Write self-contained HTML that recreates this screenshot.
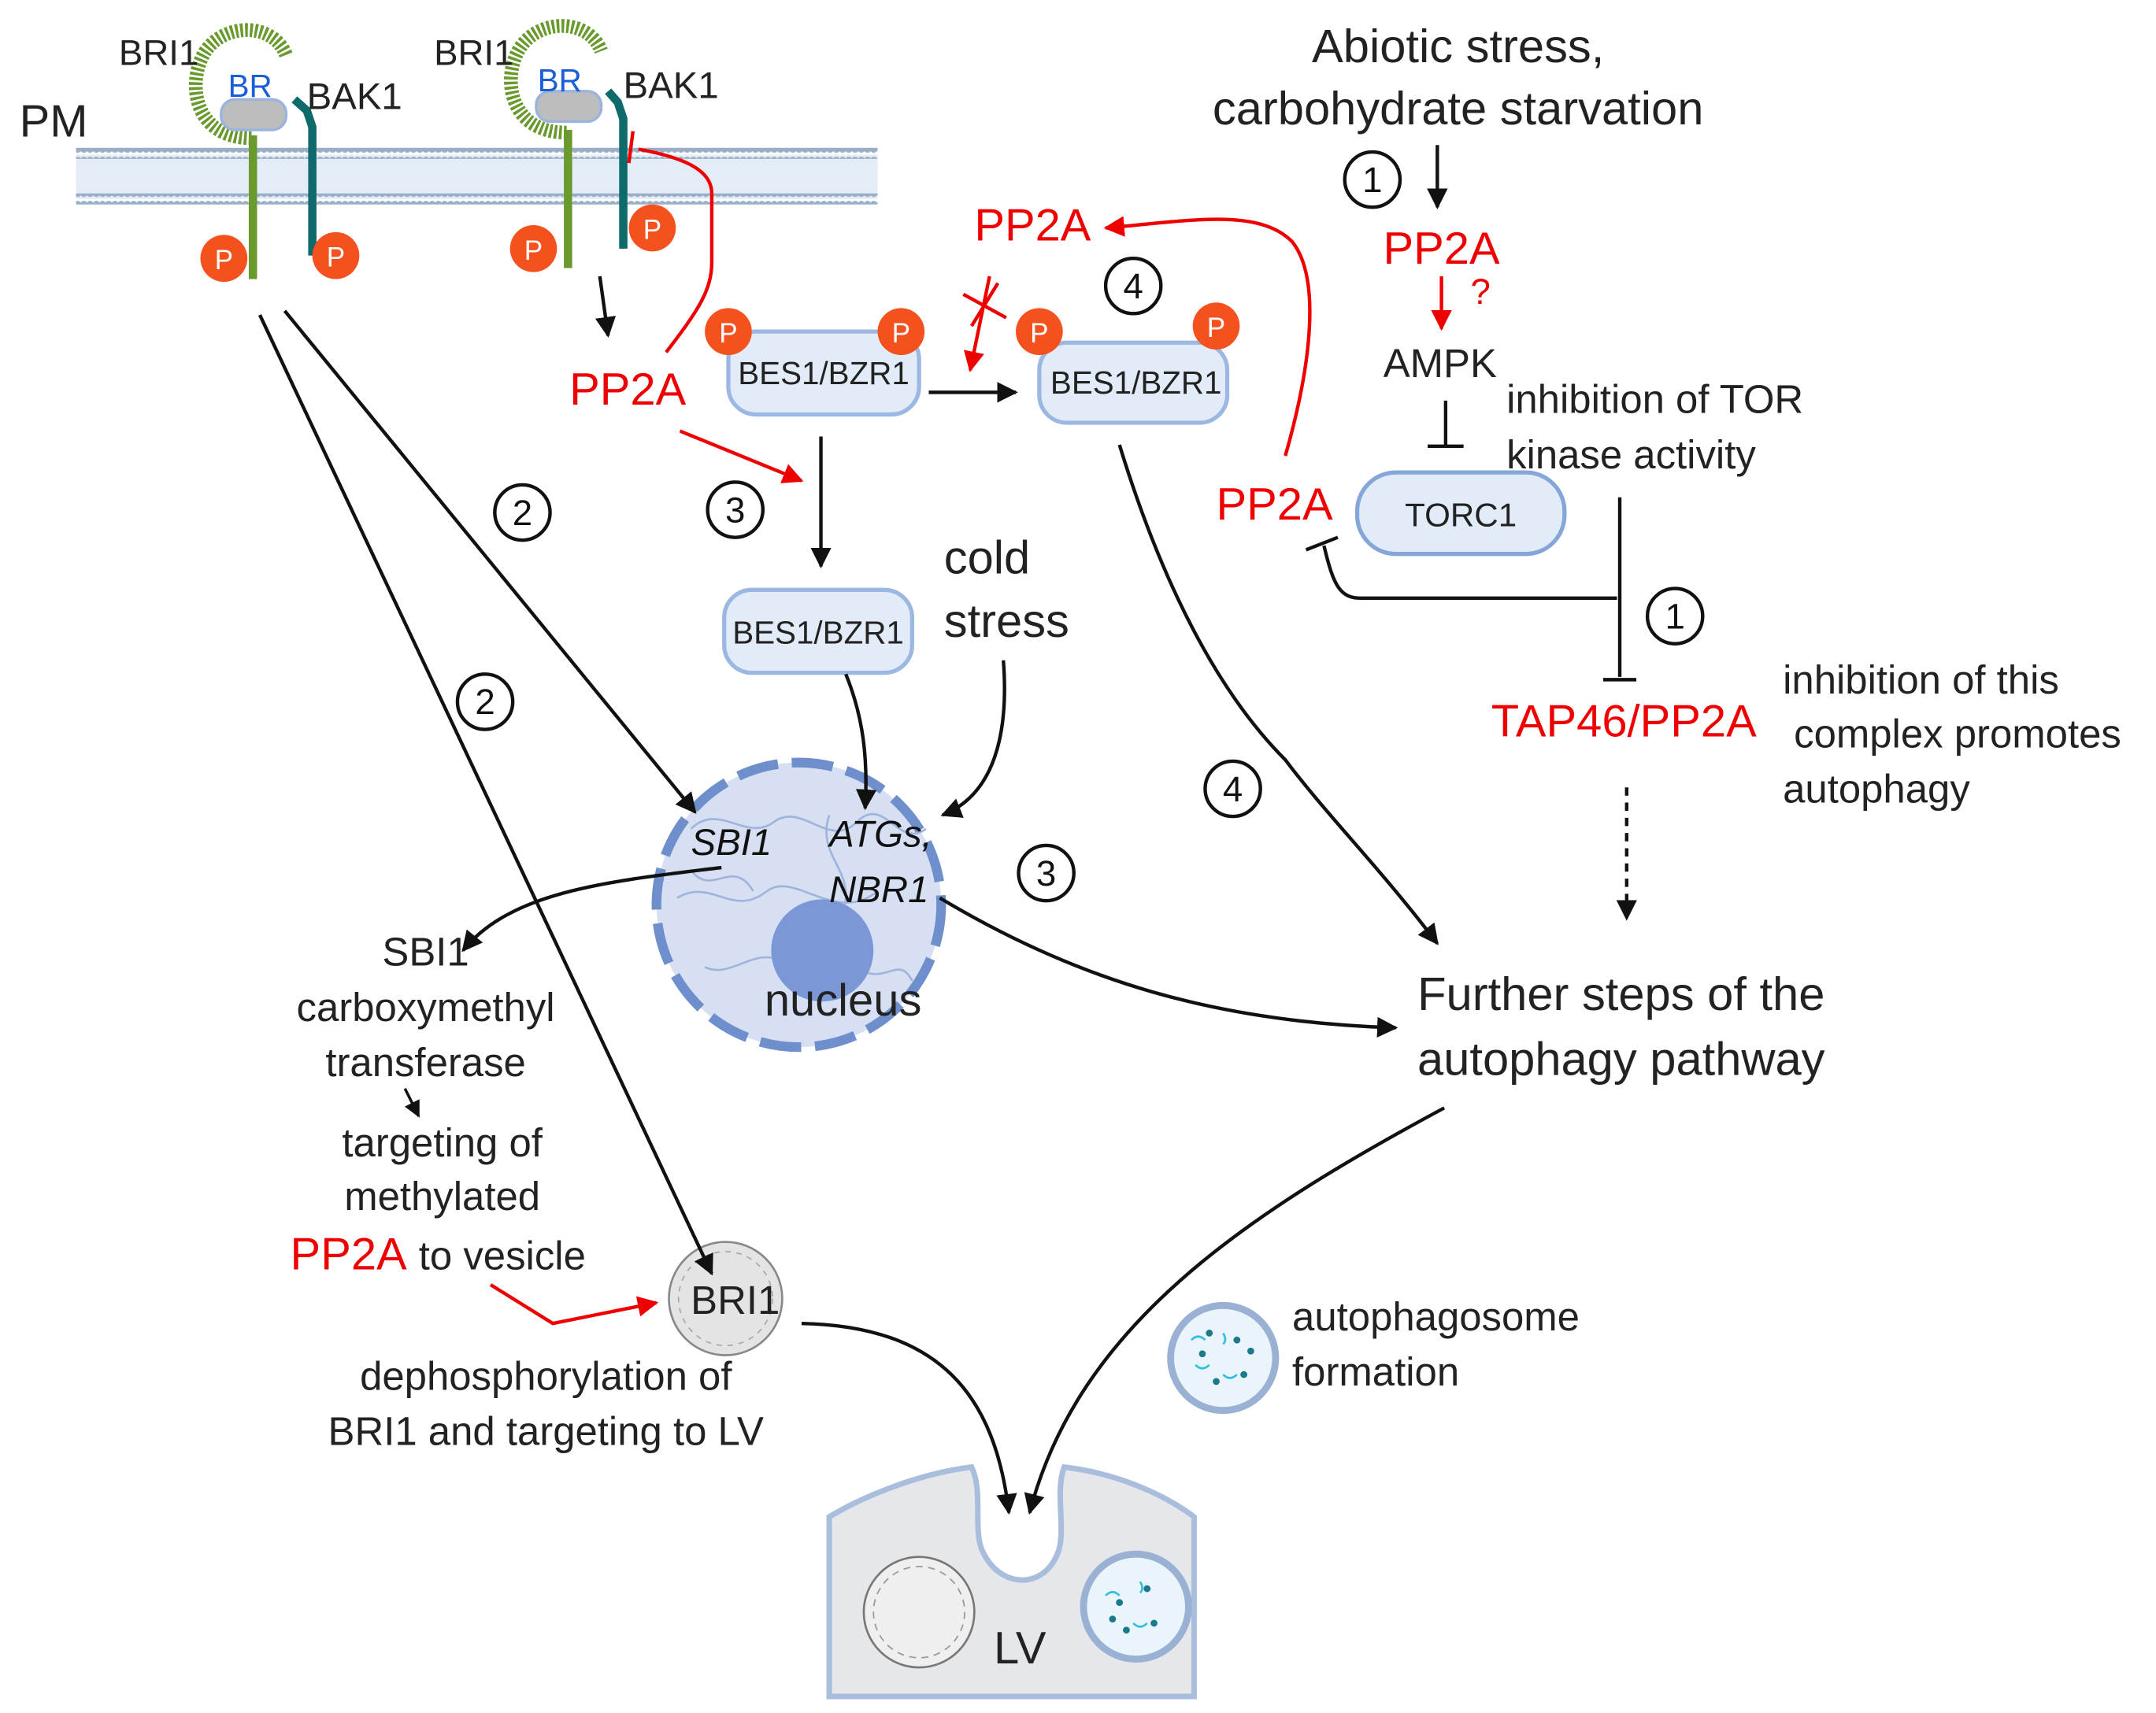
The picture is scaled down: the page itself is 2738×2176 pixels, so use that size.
<!DOCTYPE html>
<html><head><meta charset="utf-8"><style>
html,body{margin:0;padding:0;background:#fff;}
svg{display:block;}
text{font-family:"Liberation Sans","DejaVu Sans",sans-serif;}
</style></head><body>
<svg width="2738" height="2176" viewBox="0 0 1560 1240" preserveAspectRatio="none" xmlns="http://www.w3.org/2000/svg">
<defs>
<marker id="ab" viewBox="0 0 10 10" refX="9" refY="5" markerWidth="6" markerHeight="6" orient="auto-start-reverse"><path d="M0,0 L10,5 L0,10 z" fill="#111"/></marker>
<marker id="ar" viewBox="0 0 10 10" refX="9" refY="5" markerWidth="6" markerHeight="6" orient="auto-start-reverse"><path d="M0,0 L10,5 L0,10 z" fill="#e00"/></marker>
<pattern id="dots" width="4.5" height="8" patternUnits="userSpaceOnUse"><circle cx="2.2" cy="4" r="2.6" fill="#9aafc6"/></pattern>
</defs>

<!-- membrane -->
<rect x="55" y="112" width="580" height="32" fill="#e4edf7"/>
<rect x="55" y="107" width="580" height="8" fill="url(#dots)"/>
<rect x="55" y="140" width="580" height="8" fill="url(#dots)"/>

<!-- receptor 1 -->
<path d="M182,100 C140,100 135,60 148,38 C162,16 198,16 207,40" fill="none" stroke="#6a9a2e" stroke-width="10" stroke-dasharray="2 1.5"/>
<line x1="183" y1="98" x2="183" y2="202" stroke="#6a9a2e" stroke-width="6"/>
<rect x="160" y="72" width="47" height="22" rx="10" fill="#bdbdbd" stroke="#9bb4dd" stroke-width="2"/>
<path d="M213,72 L222,80 L226,92 L226,185" fill="none" stroke="#0f6b6b" stroke-width="6"/>
<circle cx="162" cy="187" r="17" fill="#f4511e"/><text x="162" y="195" font-size="20" fill="#fff" text-anchor="middle">P</text>
<circle cx="243" cy="185" r="17" fill="#f4511e"/><text x="243" y="193" font-size="20" fill="#fff" text-anchor="middle">P</text>
<text x="86" y="47" font-size="26" fill="#222">BRI1</text>
<text x="165" y="70" font-size="23" fill="#1a5fd6">BR</text>
<text x="222" y="79" font-size="27" fill="#222">BAK1</text>
<text x="14" y="99" font-size="33" fill="#222">PM</text>

<!-- receptor 2 -->
<path d="M410,96 C368,96 363,56 376,35 C390,13 426,13 435,37" fill="none" stroke="#6a9a2e" stroke-width="10" stroke-dasharray="2 1.5"/>
<line x1="411" y1="94" x2="411" y2="194" stroke="#6a9a2e" stroke-width="6"/>
<rect x="388" y="66" width="47" height="22" rx="10" fill="#bdbdbd" stroke="#9bb4dd" stroke-width="2"/>
<path d="M440,66 L447,74 L451,86 L451,180" fill="none" stroke="#0f6b6b" stroke-width="6"/>
<circle cx="386" cy="180" r="17" fill="#f4511e"/><text x="386" y="188" font-size="20" fill="#fff" text-anchor="middle">P</text>
<circle cx="472" cy="165" r="17" fill="#f4511e"/><text x="472" y="173" font-size="20" fill="#fff" text-anchor="middle">P</text>
<text x="314" y="47" font-size="26" fill="#222">BRI1</text>
<text x="389" y="66" font-size="23" fill="#1a5fd6">BR</text>
<text x="451" y="71" font-size="27" fill="#222">BAK1</text>

<!-- red inhibition from PP2A to BAK1 -->
<path d="M482,255 C505,225 515,210 515,190 L515,140 C515,125 500,115 462,108" fill="none" stroke="#e00" stroke-width="2.5"/>
<line x1="458" y1="95" x2="455" y2="118" stroke="#e00" stroke-width="2.5"/>
<line x1="434" y1="200" x2="440" y2="243" stroke="#111" stroke-width="2.5" marker-end="url(#ab)"/>
<text x="412" y="293" font-size="33" fill="#e00">PP2A</text>
<line x1="492" y1="312" x2="580" y2="348" stroke="#e00" stroke-width="2.5" marker-end="url(#ar)"/>

<!-- BES boxes -->
<rect x="527" y="240" width="138" height="60" rx="20" fill="#e2ecf9" stroke="#9cb8e2" stroke-width="3"/>
<text x="596" y="278" font-size="23" fill="#222" text-anchor="middle">BES1/BZR1</text>
<circle cx="527" cy="240" r="17" fill="#f4511e"/><text x="527" y="248" font-size="20" fill="#fff" text-anchor="middle">P</text>
<circle cx="652" cy="240" r="17" fill="#f4511e"/><text x="652" y="248" font-size="20" fill="#fff" text-anchor="middle">P</text>
<rect x="752" y="248" width="136" height="58" rx="20" fill="#e2ecf9" stroke="#9cb8e2" stroke-width="3"/>
<text x="822" y="285" font-size="23" fill="#222" text-anchor="middle">BES1/BZR1</text>
<circle cx="752" cy="240" r="17" fill="#f4511e"/><text x="752" y="248" font-size="20" fill="#fff" text-anchor="middle">P</text>
<circle cx="880" cy="236" r="17" fill="#f4511e"/><text x="880" y="244" font-size="20" fill="#fff" text-anchor="middle">P</text>
<rect x="524" y="427" width="136" height="60" rx="20" fill="#e2ecf9" stroke="#9cb8e2" stroke-width="3"/>
<text x="592" y="466" font-size="23" fill="#222" text-anchor="middle">BES1/BZR1</text>
<line x1="672" y1="284" x2="735" y2="284" stroke="#111" stroke-width="2.5" marker-end="url(#ab)"/>
<line x1="594" y1="316" x2="594" y2="410" stroke="#111" stroke-width="2.5" marker-end="url(#ab)"/>
<!-- crossed red arrow -->
<line x1="716" y1="200" x2="702" y2="268" stroke="#e00" stroke-width="2.5" marker-end="url(#ar)"/>
<line x1="697" y1="213" x2="728" y2="230" stroke="#e00" stroke-width="2.5"/>
<line x1="703" y1="236" x2="722" y2="205" stroke="#e00" stroke-width="2.5"/>
<text x="705" y="174" font-size="33" fill="#e00">PP2A</text>
<path d="M930,330 C950,260 955,200 935,175 C910,150 860,160 800,165" fill="none" stroke="#e00" stroke-width="2.5" marker-end="url(#ar)"/>

<!-- circled numbers -->
<g fill="none" stroke="#111" stroke-width="2.5">
<circle cx="820" cy="207" r="20"/><circle cx="378" cy="371" r="20"/><circle cx="532" cy="369" r="20"/>
<circle cx="351" cy="508" r="20"/><circle cx="892" cy="571" r="20"/><circle cx="757" cy="632" r="20"/>
<circle cx="993" cy="130" r="20"/><circle cx="1212" cy="446" r="20"/>
</g>
<g font-size="26" fill="#111" text-anchor="middle">
<text x="820" y="216">4</text><text x="378" y="380">2</text><text x="532" y="378">3</text>
<text x="351" y="517">2</text><text x="892" y="580">4</text><text x="757" y="641">3</text>
<text x="993" y="139">1</text><text x="1212" y="455">1</text>
</g>

<!-- nucleus -->
<circle cx="578" cy="655" r="103" fill="#d6e0f2" stroke="#6f8fcc" stroke-width="7" stroke-dasharray="30 10"/>
<path d="M500,600 c20,-20 40,10 60,-5 c20,-15 40,20 60,0 c20,-20 30,20 50,5 M490,650 c25,-15 40,15 65,-5 c20,-15 50,25 80,0 M510,700 c20,10 40,-20 60,0 M600,590 c-10,30 20,40 10,70 M500,630 c15,20 30,-10 45,15 M620,700 c20,15 30,-10 40,10" fill="none" stroke="#9fb3dc" stroke-width="1.5"/>
<circle cx="595" cy="688" r="37" fill="#7b97d6"/>
<text x="610" y="735" font-size="33" fill="#222" text-anchor="middle">nucleus</text>
<text x="500" y="619" font-size="27" fill="#111" font-style="italic">SBI1</text>
<text x="600" y="613" font-size="27" fill="#111" font-style="italic">ATGs,</text>
<text x="600" y="653" font-size="27" fill="#111" font-style="italic">NBR1</text>
<text x="683" y="415" font-size="34" fill="#222">cold</text>
<text x="683" y="461" font-size="34" fill="#222">stress</text>
<path d="M612,488 C625,520 628,550 626,585" fill="none" stroke="#111" stroke-width="2.5" marker-end="url(#ab)"/>
<path d="M726,478 C730,530 720,575 682,590" fill="none" stroke="#111" stroke-width="2.5" marker-end="url(#ab)"/>

<!-- BRI1 vesicle -->
<circle cx="525" cy="940" r="41" fill="#e4e4e4" stroke="#888" stroke-width="1.5"/>
<circle cx="525" cy="940" r="34" fill="none" stroke="#aaa" stroke-width="1" stroke-dasharray="4 4"/>
<text x="532" y="951" font-size="29" fill="#222" text-anchor="middle">BRI1</text>

<!-- from receptor 1 -->
<line x1="206" y1="225" x2="503" y2="588" stroke="#111" stroke-width="2.5" marker-end="url(#ab)"/>
<line x1="188" y1="228" x2="515" y2="922" stroke="#111" stroke-width="2.5" marker-end="url(#ab)"/>

<!-- SBI1 branch -->
<path d="M522,628 C440,638 370,645 335,688" fill="none" stroke="#111" stroke-width="2.5" marker-end="url(#ab)"/>
<g font-size="29" fill="#222" text-anchor="middle">
<text x="308" y="699">SBI1</text>
<text x="308" y="739">carboxymethyl</text>
<text x="308" y="779">transferase</text>
<text x="320" y="837">targeting of</text>
<text x="320" y="876">methylated</text>
</g>
<line x1="293" y1="788" x2="303" y2="808" stroke="#111" stroke-width="2" marker-end="url(#ab)"/>
<text x="210" y="919" font-size="33" fill="#e00">PP2A</text>
<text x="303" y="919" font-size="29" fill="#222">to vesicle</text>
<path d="M355,930 L400,958 L475,943" fill="none" stroke="#e00" stroke-width="2.5" marker-end="url(#ar)"/>
<text x="395" y="1006" font-size="29" fill="#222" text-anchor="middle">dephosphorylation of</text>
<text x="395" y="1046" font-size="29" fill="#222" text-anchor="middle">BRI1 and targeting to LV</text>

<!-- right side -->
<text x="1055" y="45" font-size="34" fill="#222" text-anchor="middle">Abiotic stress,</text>
<text x="1055" y="90" font-size="34" fill="#222" text-anchor="middle">carbohydrate starvation</text>
<line x1="1040" y1="105" x2="1040" y2="150" stroke="#111" stroke-width="2.5" marker-end="url(#ab)"/>
<text x="1043" y="191" font-size="33" fill="#e00" text-anchor="middle">PP2A</text>
<line x1="1043" y1="200" x2="1043" y2="238" stroke="#e00" stroke-width="2.5" marker-end="url(#ar)"/>
<text x="1064" y="220" font-size="26" fill="#e00">?</text>
<text x="1042" y="273" font-size="29" fill="#222" text-anchor="middle">AMPK</text>
<line x1="1046" y1="290" x2="1046" y2="322" stroke="#111" stroke-width="2.5"/>
<line x1="1033" y1="323" x2="1059" y2="323" stroke="#111" stroke-width="2.5"/>
<text x="1090" y="299" font-size="29" fill="#222">inhibition of TOR</text>
<text x="1090" y="339" font-size="29" fill="#222">kinase activity</text>
<rect x="982" y="342" width="150" height="59" rx="28" fill="#e2ecf9" stroke="#85a6d8" stroke-width="3"/>
<text x="1057" y="381" font-size="24" fill="#222" text-anchor="middle">TORC1</text>
<text x="880" y="376" font-size="33" fill="#e00">PP2A</text>
<line x1="1172" y1="360" x2="1172" y2="490" stroke="#111" stroke-width="2.5"/>
<line x1="1160" y1="492" x2="1184" y2="492" stroke="#111" stroke-width="2.5"/>
<path d="M1170,433 L985,433 C970,433 965,425 958,395" fill="none" stroke="#111" stroke-width="2.5"/>
<line x1="945" y1="398" x2="968" y2="389" stroke="#111" stroke-width="2.5"/>
<text x="1175" y="533" font-size="33" fill="#e00" text-anchor="middle">TAP46/PP2A</text>
<text x="1290" y="502" font-size="29" fill="#222">inhibition of this</text>
<text x="1298" y="541" font-size="29" fill="#222">complex promotes</text>
<text x="1290" y="581" font-size="29" fill="#222">autophagy</text>
<line x1="1177" y1="570" x2="1177" y2="665" stroke="#111" stroke-width="2.5" stroke-dasharray="6 5" marker-end="url(#ab)"/>
<text x="1173" y="731" font-size="34" fill="#222" text-anchor="middle">Further steps of the</text>
<text x="1173" y="778" font-size="34" fill="#222" text-anchor="middle">autophagy pathway</text>
<path d="M810,322 C840,420 880,500 930,550 C960,590 1000,630 1040,683" fill="none" stroke="#111" stroke-width="2.5" marker-end="url(#ab)"/>
<path d="M680,650 C780,710 880,740 1010,744" fill="none" stroke="#111" stroke-width="2.5" marker-end="url(#ab)"/>

<!-- autophagosome -->
<circle cx="885" cy="983" r="38" fill="#e9f4fb" stroke="#9ab1d3" stroke-width="5"/>
<g fill="#1b7a8a"><circle cx="870" cy="980" r="2.5"/><circle cx="895" cy="970" r="2.5"/><circle cx="900" cy="995" r="2.5"/><circle cx="880" cy="1000" r="2.5"/><circle cx="905" cy="978" r="2.5"/><circle cx="875" cy="965" r="2.5"/></g>
<path d="M862,970 q5,-5 10,0 M885,995 q5,5 10,0 M885,965 q3,5 0,8 M865,988 q5,5 10,0" stroke="#33bde0" stroke-width="1.5" fill="none"/>
<text x="935" y="963" font-size="29" fill="#222">autophagosome</text>
<text x="935" y="1003" font-size="29" fill="#222">formation</text>

<!-- LV -->
<path d="M600,1228 L600,1098 C630,1080 670,1066 703,1062 C712,1080 703,1110 712,1125 C725,1150 755,1150 765,1125 C772,1110 763,1080 770,1062 C805,1066 840,1080 864,1098 L864,1228 Z" fill="#e6e7ea" stroke="#a9bedc" stroke-width="4"/>
<circle cx="665" cy="1167" r="40" fill="#efefef" stroke="#777" stroke-width="1.5"/>
<circle cx="665" cy="1167" r="33" fill="none" stroke="#999" stroke-width="1" stroke-dasharray="5 4"/>
<circle cx="822" cy="1163" r="38" fill="#e9f4fb" stroke="#9ab1d3" stroke-width="5"/>
<g fill="#1b7a8a"><circle cx="810" cy="1160" r="2.5"/><circle cx="830" cy="1150" r="2.5"/><circle cx="835" cy="1175" r="2.5"/><circle cx="815" cy="1180" r="2.5"/><circle cx="805" cy="1172" r="2.5"/></g>
<path d="M800,1155 q5,-5 10,0 M820,1175 q5,5 10,0 M825,1145 q3,5 0,8" stroke="#33bde0" stroke-width="1.5" fill="none"/>
<text x="738" y="1204" font-size="33" fill="#222" text-anchor="middle">LV</text>

<!-- to LV -->
<path d="M580,958 C680,960 720,1010 730,1095" fill="none" stroke="#111" stroke-width="2.5" marker-end="url(#ab)"/>
<path d="M1045,802 C900,880 780,960 745,1095" fill="none" stroke="#111" stroke-width="2.5" marker-end="url(#ab)"/>
</svg>
</body></html>
